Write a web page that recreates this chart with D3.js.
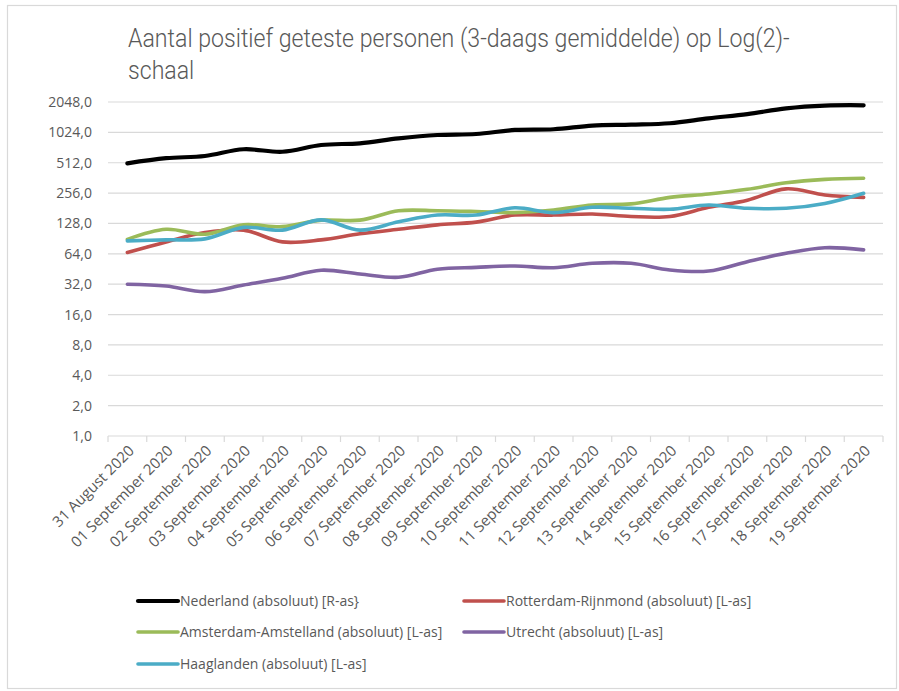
<!DOCTYPE html>
<html>
<head>
<meta charset="utf-8">
<script src="https://cdn.jsdelivr.net/npm/d3@7"></script>
<style>
  body { margin: 0; background: #fff; }
  svg { display: block; font-family: "Open Sans", sans-serif; }
</style>
</head>
<body>
<svg width="899" height="691"></svg>
<script>
// categories (x axis)
var dates = ["31 August 2020", "01 September 2020", "02 September 2020", "03 September 2020",
  "04 September 2020", "05 September 2020", "06 September 2020", "07 September 2020",
  "08 September 2020", "09 September 2020", "10 September 2020", "11 September 2020",
  "12 September 2020", "13 September 2020", "14 September 2020", "15 September 2020",
  "16 September 2020", "17 September 2020", "18 September 2020", "19 September 2020"];

// series values
var nederland = [505, 568, 597, 696, 658, 767, 798, 893, 964, 987, 1082, 1100, 1194, 1220, 1260, 1410, 1555, 1770, 1885, 1900];
var rotterdam = [66, 84, 104, 110, 84, 88, 101, 112, 124, 132, 155, 155, 159, 150, 150, 185, 218, 282, 245, 232];
var amsterdam = [89, 112, 100, 124, 119, 138, 138, 171, 171, 168, 164, 174, 195, 200, 232, 251, 279, 324, 350, 359];
var utrecht = [32, 30.7, 27, 31.4, 36.6, 44, 40.4, 37.5, 45, 47, 48.5, 46.6, 51.6, 51.6, 44.3, 43.2, 53.5, 64.8, 73.6, 70];
var haaglanden = [86, 88, 90, 117, 110, 139, 110, 133, 155, 155, 183, 164, 185, 181, 177, 195, 181, 181, 202, 255];

var yTicks = [1, 2, 4, 8, 16, 32, 64, 128, 256, 512, 1024, 2048];

var series = [
  {name: "Nederland (absoluut) [R-as}", values: nederland, color: "#000000", width: 4.2},
  {name: "Rotterdam-Rijnmond (absoluut) [L-as]", values: rotterdam, color: "#C0504D", width: 3.6},
  {name: "Amsterdam-Amstelland (absoluut) [L-as]", values: amsterdam, color: "#9BBB59", width: 3.6},
  {name: "Utrecht (absoluut) [L-as]", values: utrecht, color: "#8064A2", width: 3.6},
  {name: "Haaglanden (absoluut) [L-as]", values: haaglanden, color: "#4BACC6", width: 3.6}
];

var svg = d3.select("svg"),
    margin = {top: 102, right: 16, bottom: 255, left: 108},
    width = 899 - margin.left - margin.right,
    height = 691 - margin.top - margin.bottom;

var textColor = "#595959";

// chart border
svg.append("rect")
  .attr("x", 7.5).attr("y", 5.5)
  .attr("width", 889).attr("height", 683)
  .attr("fill", "#fff")
  .attr("stroke", "#d9d9d9")
  .attr("stroke-width", 1.2);

// title: tall narrow look, squeezed horizontally to the width in the picture
var title = svg.append("g").attr("fill", textColor)
  .style("font-family", "Roboto").style("font-weight", 300).style("font-size", "26px");
var t1 = title.append("text")
  .attr("x", 0).attr("y", 0)
  .text("Aantal positief geteste personen (3-daags gemiddelde) op Log(2)-");
var sx = 662 / t1.node().getComputedTextLength();
title.append("text")
  .attr("x", 0).attr("y", 32)
  .text("schaal");
title.attr("transform", "translate(128,47) scale(" + sx + ",1)");

var g = svg.append("g").attr("transform", "translate(" + margin.left + "," + margin.top + ")");

var x = d3.scaleBand().domain(dates).range([0, width]).paddingInner(0).paddingOuter(0);
var y = d3.scaleLog().base(2).domain([1, 2048]).range([height, 0]);

// gridlines
g.append("g")
  .selectAll("line")
  .data(yTicks.slice(1))
  .enter()
  .append("line")
  .attr("x1", 0).attr("x2", width)
  .attr("y1", function (d) { return y(d); })
  .attr("y2", function (d) { return y(d); })
  .attr("stroke", "#d9d9d9")
  .attr("stroke-width", 1.2);

// y axis labels
var fmt = function (d) { return d3.format(".1f")(d).replace(".", ","); };
var yAxis = d3.axisLeft(y).tickValues(yTicks).tickFormat(fmt).tickSize(0).tickPadding(16);
var ya = g.append("g").call(yAxis);
ya.select(".domain").remove();
ya.selectAll("text").attr("fill", textColor).style("font-size", "14px").style("font-family", "Open Sans");

// x axis line + ticks at category boundaries
var xa = g.append("g").attr("transform", "translate(0," + height + ")");
xa.append("line").attr("x1", 0).attr("x2", width).attr("stroke", "#d9d9d9").attr("stroke-width", 1.2);
xa.selectAll(".tick")
  .data(dates.concat(["end"]))
  .enter()
  .append("line")
  .attr("x1", function (d, i) { return i * x.step(); })
  .attr("x2", function (d, i) { return i * x.step(); })
  .attr("y1", 0).attr("y2", 6)
  .attr("stroke", "#d9d9d9")
  .attr("stroke-width", 1.2);

xa.selectAll("text")
  .data(dates)
  .enter()
  .append("text")
  .attr("transform", function (d) {
    return "translate(" + (x(d) + x.bandwidth() / 2 + 4) + ",12) rotate(-45)";
  })
  .attr("text-anchor", "end")
  .attr("fill", textColor)
  .style("font-size", "15px")
  .attr("dy", "0.35em")
  .text(function (d) { return d; });

// lines
var line = d3.line()
  .x(function (d, i) { return x(dates[i]) + x.bandwidth() / 2; })
  .y(function (d) { return y(d); })
  .curve(d3.curveCatmullRom.alpha(0.5));

var drawOrder = [series[1], series[2], series[3], series[4], series[0]];
g.append("g")
  .selectAll("path")
  .data(drawOrder)
  .enter()
  .append("path")
  .attr("d", function (s) { return line(s.values); })
  .attr("fill", "none")
  .attr("stroke", function (s) { return s.color; })
  .attr("stroke-width", function (s) { return s.width; })
  .attr("stroke-linecap", "round")
  .attr("stroke-linejoin", "round");

// legend
var legendPos = [[138, 601], [464, 601], [138, 632], [464, 632], [138, 664]];
var legend = svg.append("g")
  .selectAll("g")
  .data(series)
  .enter()
  .append("g")
  .attr("transform", function (s, i) { return "translate(" + legendPos[i][0] + "," + legendPos[i][1] + ")"; });

legend.append("line")
  .attr("x1", 0).attr("x2", 40)
  .attr("stroke", function (s) { return s.color; })
  .attr("stroke-width", function (s) { return s.width; })
  .attr("stroke-linecap", "round");

legend.append("text")
  .attr("x", 42)
  .attr("dy", "0.35em")
  .attr("fill", textColor)
  .style("font-size", "14px")
  .text(function (s) { return s.name; });
</script>
</body>
</html>
